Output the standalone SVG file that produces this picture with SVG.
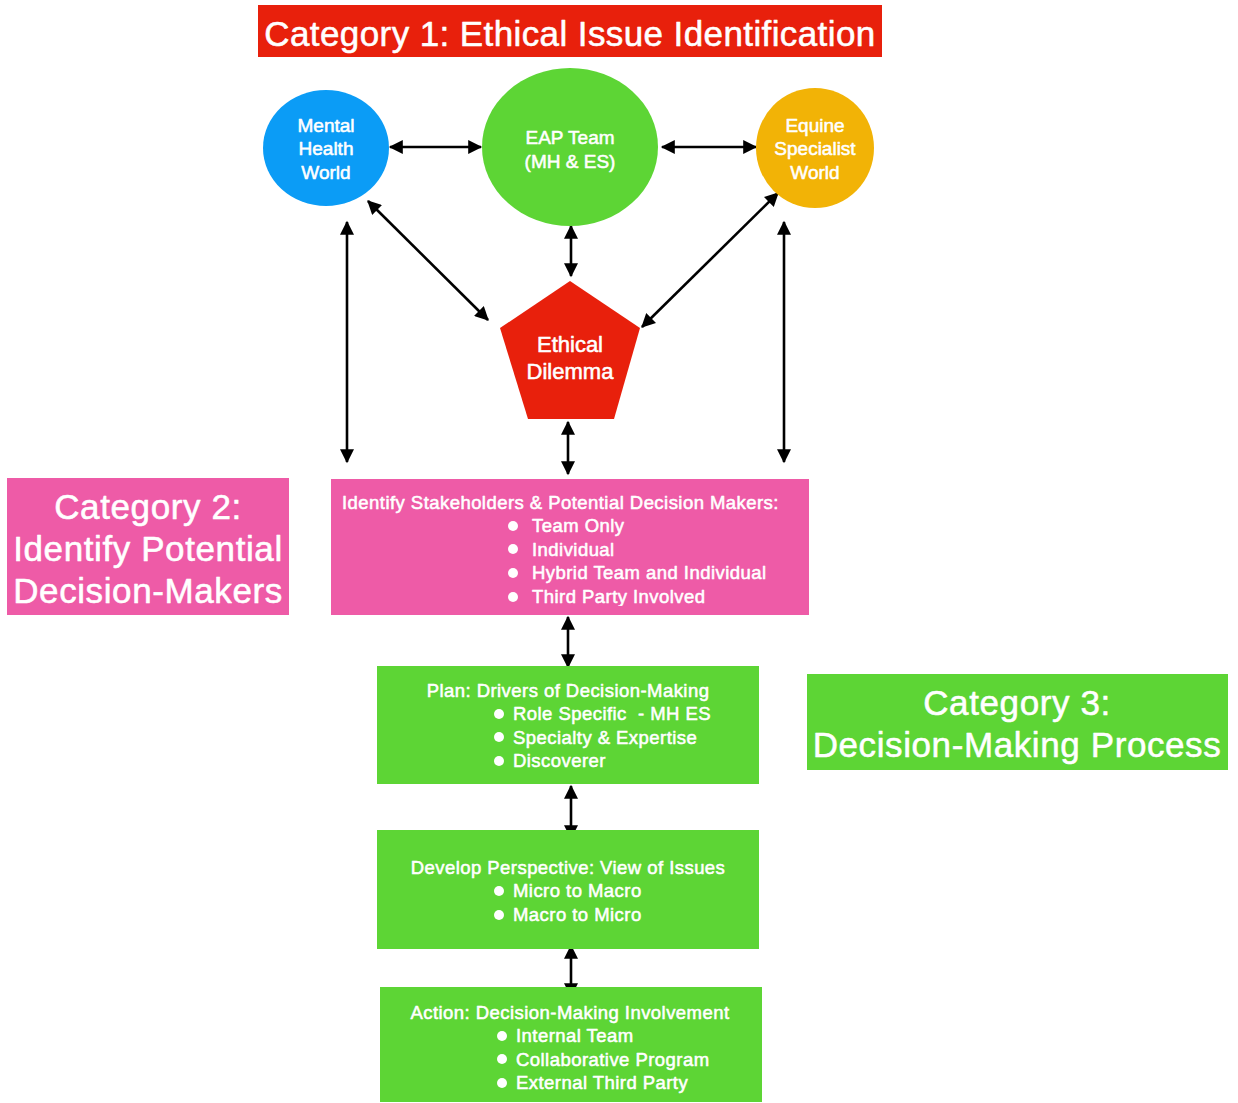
<svg xmlns="http://www.w3.org/2000/svg" width="1238" height="1103" viewBox="0 0 1238 1103">
  <style>
    text { font-family: "Liberation Sans", Arial, Helvetica, sans-serif; fill: #ffffff; stroke: #ffffff; stroke-width: 0.55; stroke-linejoin: round; }
    .title { font-size: 35px; letter-spacing: 0.4px; }
    .cat { font-size: 35px; letter-spacing: 0.6px; }
    .circ { font-size: 19px; text-anchor: middle; }
    .pent { font-size: 22px; text-anchor: middle; }
    .box { font-size: 18.5px; letter-spacing: 0.45px; }
    .mid { text-anchor: middle; }
    .conn { stroke: #000000; stroke-width: 2.6; fill: none; marker-start: url(#arrow); marker-end: url(#arrow); }
    .red { fill: #e8200c; }
    .pink { fill: #ee5ba7; }
    .green { fill: #5dd535; }
  </style>
  <defs>
    <marker id="arrow" viewBox="0 0 12 12" refX="11" refY="6" markerWidth="15" markerHeight="14" markerUnits="userSpaceOnUse" orient="auto-start-reverse">
      <path d="M0,0 L12,6 L0,12 z" fill="#000000"/>
    </marker>
    <clipPath id="clipStake">
      <rect x="331" y="479" width="478" height="127"/>
    </clipPath>
  </defs>
  <rect width="1238" height="1103" fill="#ffffff"/>

  <!-- Category headers -->
  <g id="category1">
    <rect class="red" x="258" y="5" width="624" height="52"/>
    <text class="title mid" x="570" y="46">Category 1: Ethical Issue Identification</text>
  </g>
  <g id="category2">
    <rect class="pink" x="7" y="478" width="282" height="137"/>
    <text class="cat mid" x="148" y="519">Category 2:</text>
    <text class="cat mid" x="148" y="561">Identify Potential</text>
    <text class="cat mid" x="148" y="603">Decision-Makers</text>
  </g>
  <g id="category3">
    <rect class="green" x="807" y="674" width="421" height="96"/>
    <text class="cat mid" x="1017" y="715">Category 3:</text>
    <text class="cat mid" x="1017" y="757">Decision-Making Process</text>
  </g>

  <!-- Connectors -->
  <g id="connectors">
    <line class="conn" x1="390" y1="147" x2="481" y2="147"/>
    <line class="conn" x1="662" y1="147" x2="756" y2="147"/>
    <line class="conn" x1="571" y1="226" x2="571" y2="276"/>
    <line class="conn" x1="368" y1="201" x2="488" y2="320"/>
    <line class="conn" x1="778" y1="193" x2="642" y2="327"/>
    <line class="conn" x1="347" y1="222" x2="347" y2="462"/>
    <line class="conn" x1="784" y1="222" x2="784" y2="462"/>
    <line class="conn" x1="568" y1="422" x2="568" y2="474"/>
    <line class="conn" x1="568" y1="617" x2="568" y2="667"/>
    <line class="conn" x1="571" y1="786" x2="571" y2="838"/>
    <line class="conn" x1="571" y1="946" x2="571" y2="996"/>
  </g>

  <!-- Top nodes -->
  <g id="mental-health">
    <ellipse cx="326" cy="148" rx="63" ry="58" fill="#0b9cf6"/>
    <text class="circ" x="326" y="132">Mental</text>
    <text class="circ" x="326" y="155">Health</text>
    <text class="circ" x="326" y="179">World</text>
  </g>
  <g id="eap-team">
    <ellipse cx="570" cy="147" rx="88" ry="79" fill="#5dd535"/>
    <text class="circ" x="570" y="144">EAP Team</text>
    <text class="circ" x="570" y="168">(MH &amp; ES)</text>
  </g>
  <g id="equine-specialist">
    <ellipse cx="815" cy="148" rx="59" ry="60" fill="#f2b306"/>
    <text class="circ" x="815" y="132">Equine</text>
    <text class="circ" x="815" y="155">Specialist</text>
    <text class="circ" x="815" y="179">World</text>
  </g>
  <g id="ethical-dilemma">
    <polygon class="red" points="570,281 640,328 614,419 528,419 500,328"/>
    <text class="pent" x="570" y="352">Ethical</text>
    <text class="pent" x="570" y="379">Dilemma</text>
  </g>

  <!-- Process boxes -->
  <g id="stakeholders">
    <rect class="pink" x="331" y="479" width="478" height="136"/>
    <g clip-path="url(#clipStake)">
      <text class="box" x="342" y="509">Identify Stakeholders &amp; Potential Decision Makers:</text>
      <circle cx="513" cy="526" r="5" fill="#fff"/>
      <text class="box" x="532" y="532">Team Only</text>
      <circle cx="513" cy="549" r="5" fill="#fff"/>
      <text class="box" x="532" y="556">Individual</text>
      <circle cx="513" cy="573" r="5" fill="#fff"/>
      <text class="box" x="532" y="579">Hybrid Team and Individual</text>
      <circle cx="513" cy="597" r="5" fill="#fff"/>
      <text class="box" x="532" y="603">Third Party Involved</text>
    </g>
  </g>
  <g id="plan">
    <rect class="green" x="377" y="666" width="382" height="118"/>
    <text class="box mid" x="568" y="697">Plan: Drivers of Decision-Making</text>
    <circle cx="499" cy="714" r="5" fill="#fff"/>
    <text class="box" x="513" y="720" xml:space="preserve">Role Specific  - MH ES</text>
    <circle cx="499" cy="737" r="5" fill="#fff"/>
    <text class="box" x="513" y="744">Specialty &amp; Expertise</text>
    <circle cx="499" cy="761" r="5" fill="#fff"/>
    <text class="box" x="513" y="767">Discoverer</text>
  </g>
  <g id="develop">
    <rect class="green" x="377" y="830" width="382" height="119"/>
    <text class="box mid" x="568" y="874">Develop Perspective: View of Issues</text>
    <circle cx="499" cy="891" r="5" fill="#fff"/>
    <text class="box" x="513" y="897">Micro to Macro</text>
    <circle cx="499" cy="915" r="5" fill="#fff"/>
    <text class="box" x="513" y="921">Macro to Micro</text>
  </g>
  <g id="action">
    <rect class="green" x="380" y="987" width="382" height="115"/>
    <text class="box mid" x="570" y="1019">Action: Decision-Making Involvement</text>
    <circle cx="502" cy="1036" r="5" fill="#fff"/>
    <text class="box" x="516" y="1042">Internal Team</text>
    <circle cx="502" cy="1059" r="5" fill="#fff"/>
    <text class="box" x="516" y="1066">Collaborative Program</text>
    <circle cx="502" cy="1083" r="5" fill="#fff"/>
    <text class="box" x="516" y="1089">External Third Party</text>
  </g>
</svg>
